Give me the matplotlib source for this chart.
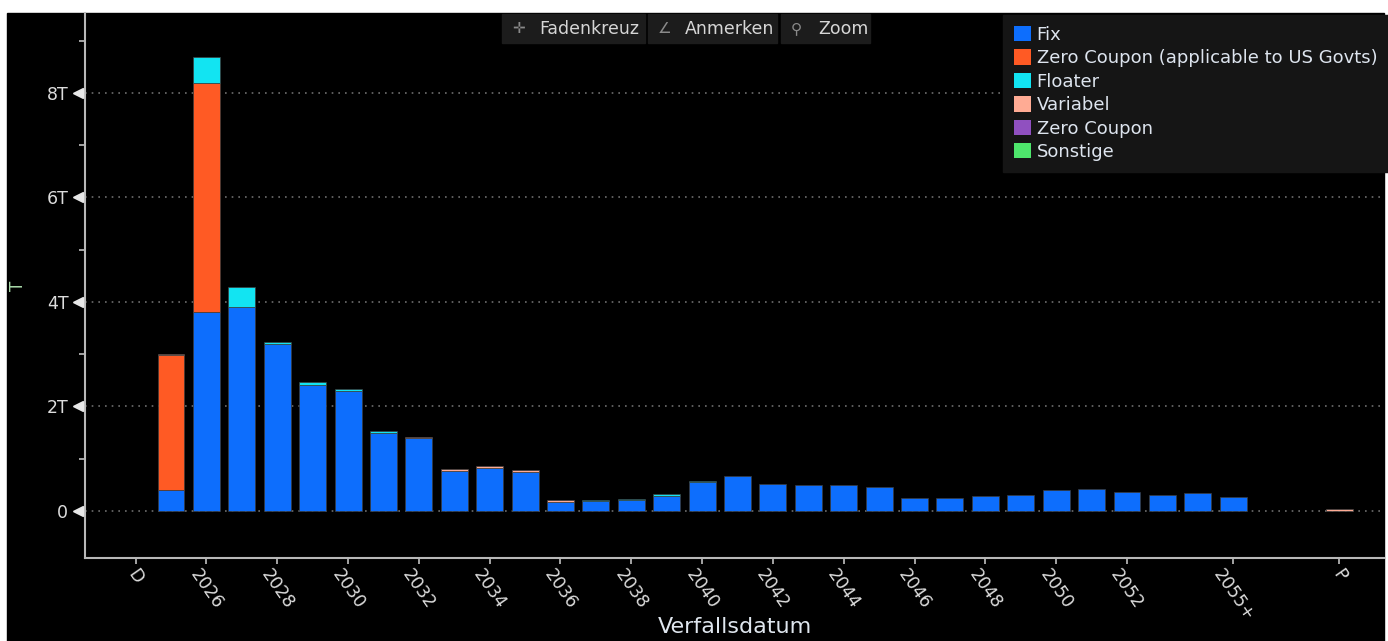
import numpy as np
import matplotlib
matplotlib.use("Agg")
import matplotlib.pyplot as plt
from matplotlib import transforms
from matplotlib.patches import Rectangle, Patch

# category slots along the x axis (D, years, 2055+, two empty gaps, P)
slots = ["D"] + [str(y) for y in range(2025, 2055)] + ["2055+", "", "", "P"]
shown_ticks = ["D"] + [str(y) for y in range(2026, 2053, 2)] + ["2055+", "P"]

# values in trillions, one per slot
fix = [0,
       0.40, 3.81, 3.90, 3.20, 2.42, 2.30, 1.50, 1.39, 0.77, 0.83,
       0.75, 0.18, 0.19, 0.21, 0.29, 0.55, 0.66, 0.52, 0.49, 0.49,
       0.46, 0.25, 0.25, 0.28, 0.31, 0.40, 0.42, 0.36, 0.31, 0.34,
       0.27, 0, 0, 0]
zero_us = [0,
           2.58, 4.38, 0, 0, 0, 0, 0, 0, 0, 0,
           0, 0, 0, 0, 0, 0, 0, 0, 0, 0,
           0, 0, 0, 0, 0, 0, 0, 0, 0, 0,
           0, 0, 0, 0]
floater = [0,
           0, 0.50, 0.39, 0.04, 0.04, 0.03, 0.03, 0, 0, 0,
           0, 0, 0.02, 0.02, 0.04, 0.03, 0, 0, 0, 0,
           0, 0, 0, 0, 0, 0, 0, 0, 0, 0,
           0, 0, 0, 0]
variabel = [0,
            0.02, 0, 0, 0, 0, 0, 0, 0.03, 0.03, 0.03,
            0.03, 0.03, 0, 0, 0, 0, 0, 0, 0, 0,
            0, 0, 0, 0, 0, 0, 0, 0, 0, 0,
            0, 0, 0, 0.03]
zero_coupon = [0] * len(slots)
sonstige = [0] * len(slots)

series = [
    ("Fix", fix, "#0d6efd"),
    ("Zero Coupon (applicable to US Govts)", zero_us, "#ff5a24"),
    ("Floater", floater, "#12e4f2"),
    ("Variabel", variabel, "#ffab94"),
    ("Zero Coupon", zero_coupon, "#9050c0"),
    ("Sonstige", sonstige, "#4ee66c"),
]

W, H = 1388, 641
fig = plt.figure(figsize=(W / 100, H / 100), dpi=100, facecolor="white")
fig.patches.append(Rectangle((7 / W, 0), (1384 - 7) / W, (H - 13) / H,
                             transform=fig.transFigure, color="black", zorder=-5))

ax = fig.add_axes([85 / W, (H - 558) / H, (1384 - 85) / W, (558 - 13) / H])
ax.set_facecolor("black")

x = np.arange(len(slots))
bottom = np.zeros(len(slots))
handles = []
for name, vals, col in series:
    vals = np.array(vals, dtype=float)
    keep = vals > 0
    ax.bar(x[keep], vals[keep], width=0.76, bottom=bottom[keep], color=col,
           edgecolor="#3c3c3c", linewidth=0.5, zorder=3)
    bottom += vals
    handles.append(Patch(facecolor=col, label=name))

ax.set_xlim(-1.43, 35.26)
ax.set_ylim(-0.90, 9.53)

# y axis
yt = [0, 2, 4, 6, 8]
ax.set_yticks(yt)
ax.set_yticklabels(["0", "2T", "4T", "6T", "8T"])
ax.set_yticks([1, 3, 5, 7, 9], minor=True)
ax.tick_params(axis="y", which="major", length=0, pad=12, labelsize=12.5, labelcolor="#dcdcdc")
ax.tick_params(axis="y", which="minor", length=4, width=1.2, color="#c0c0c0")
tri = transforms.blended_transform_factory(ax.transAxes, ax.transData) + \
    transforms.ScaledTranslation(-5 / 72, 0, fig.dpi_scale_trans)
ax.plot([0] * len(yt), yt, ls="none", marker="<", ms=7, color="#e8e8e8",
        transform=tri, clip_on=False, zorder=5)
ax.grid(axis="y", which="major", color="#6e6e6e", linestyle=(0, (1, 3)), linewidth=1.2, zorder=1)

# x axis
tick_pos = [slots.index(s) for s in shown_ticks]
ax.set_xticks(tick_pos)
ax.set_xticklabels(shown_ticks, rotation=-55, ha="center", va="top")
ax.tick_params(axis="x", length=4, width=1.2, color="#c0c0c0", pad=2,
               labelsize=12.5, labelcolor="#dcdcdc")

for side in ["top", "right"]:
    ax.spines[side].set_visible(False)
for side in ["left", "bottom"]:
    ax.spines[side].set_color("#b8b8b8")
    ax.spines[side].set_linewidth(1.5)

ax.set_xlabel("Verfallsdatum", fontsize=16, color="#dfe6ee")
ax.xaxis.set_label_coords(0.5, -0.108)
ax.set_ylabel("T", fontsize=12, color="#a8d8a8")
ax.yaxis.set_label_coords(-0.045, 0.5)

leg = ax.legend(handles=handles, loc="upper right", bbox_to_anchor=(1388 / W, (H - 15) / H),
                bbox_transform=fig.transFigure, borderaxespad=0,
                frameon=True, fancybox=False, facecolor="#151515", edgecolor="#151515",
                framealpha=1, fontsize=13, labelcolor="#dde4ee",
                handlelength=0.95, handleheight=0.95, handletextpad=0.3,
                labelspacing=0.3, borderpad=0.6)

# toolbar at the top
tools = [("\u271b", "Fadenkreuz", 502, 645), ("\u2220", "Anmerken", 648, 777), ("\u26b2", "Zoom", 781, 870)]
for icon, label, x0, x1 in tools:
    fig.patches.append(Rectangle((x0 / W, (H - 43) / H), (x1 - x0) / W, 29 / H,
                                 transform=fig.transFigure, color="#1c1c1c", zorder=1))
    fig.text((x0 + 10) / W, (H - 28.5) / H, icon, color="#8a8a8a", fontsize=11, va="center")
    fig.text((x0 + 37) / W, (H - 28.5) / H, label, color="#d6d6d6", fontsize=12.5, va="center")

fig.savefig("out.png", dpi=100, facecolor=fig.get_facecolor())
